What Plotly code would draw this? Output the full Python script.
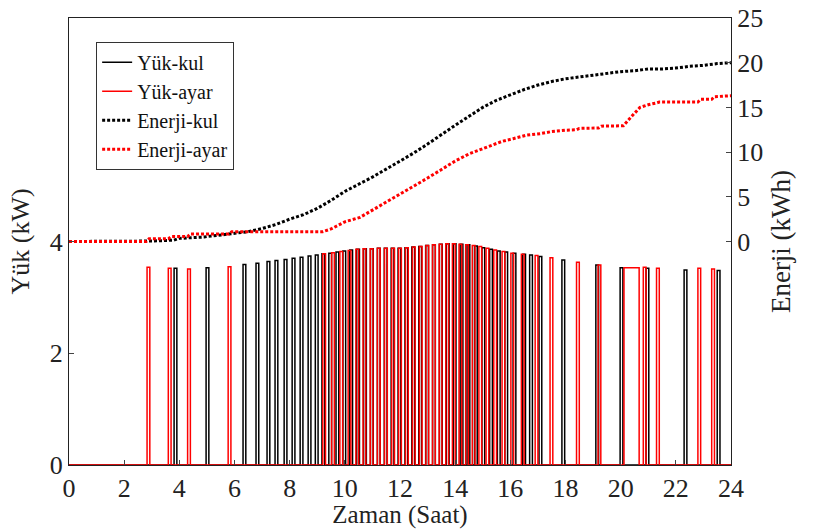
import plotly.graph_objects as go

# ---------------- data ----------------
# Load pulses (start hour, height kW, duration h)
kul_start = [3.81, 4.97, 6.31, 6.78, 7.18, 7.47, 7.80, 8.09, 8.38, 8.67, 8.93, 9.17,
             9.42, 9.68, 9.93, 10.18, 10.43, 10.68, 10.93, 11.18, 11.43, 11.68, 11.93,
             12.18, 12.43, 12.68, 12.93, 13.18, 13.43, 13.68, 13.93, 14.18, 14.43, 14.70,
             14.97, 15.25, 15.53, 15.80, 16.10, 16.45, 16.70, 17.04, 17.87, 19.10, 19.98,
             20.92, 22.30, 23.50]
kul_height = [3.52, 3.53, 3.59, 3.61, 3.64, 3.66, 3.68, 3.70, 3.72, 3.74, 3.76, 3.78,
              3.79, 3.81, 3.83, 3.85, 3.86, 3.87, 3.87, 3.88, 3.88, 3.88, 3.88,
              3.89, 3.90, 3.91, 3.93, 3.94, 3.95, 3.96, 3.96, 3.95, 3.94, 3.92,
              3.89, 3.86, 3.83, 3.81, 3.79, 3.77, 3.76, 3.73, 3.67, 3.58, 3.53,
              3.52, 3.49, 3.48]
kul_dur = [0.10] * len(kul_start)

ayar_start = [2.83, 3.60, 4.30, 5.77, 9.20, 9.52, 9.82, 10.12, 10.40, 10.66, 10.92,
              11.18, 11.44, 11.70, 11.95, 12.20, 12.45, 12.70, 12.94, 13.18, 13.42,
              13.66, 13.90, 14.14, 14.38, 14.62, 14.86, 15.12, 15.40, 15.70, 16.02,
              16.40, 16.90, 17.44, 18.40, 19.18, 20.12, 20.82, 21.30, 22.80, 23.30]
ayar_height = [3.54, 3.52, 3.51, 3.55, 3.78, 3.80, 3.82, 3.84, 3.86, 3.87, 3.87,
               3.88, 3.88, 3.88, 3.88, 3.89, 3.90, 3.91, 3.93, 3.94, 3.95,
               3.96, 3.96, 3.95, 3.94, 3.93, 3.91, 3.88, 3.85, 3.82, 3.79,
               3.77, 3.75, 3.71, 3.63, 3.58, 3.53, 3.54, 3.52, 3.52, 3.51]
ayar_dur = [0.10] * 36 + [0.55] + [0.10] * 4

# Cumulative energy (kWh)
ek_t = [0, 2.5, 3.0, 3.8, 4.0, 4.9, 5.0, 5.7, 6.0, 6.5, 7.0, 7.5, 8.0, 8.5, 9.0, 9.5,
        10.0, 10.5, 11.0, 11.5, 12.0, 12.5, 13.0, 13.5, 14.0, 14.5, 15.0, 15.5, 16.0,
        16.5, 17.0, 17.5, 18.0, 18.5, 19.0, 19.5, 20.0, 20.5, 21.0, 21.5, 22.0, 22.5,
        23.0, 23.5, 24.0]
ek_v = [0, 0, 0.05, 0.15, 0.35, 0.5, 0.55, 0.8, 0.9, 1.1, 1.45, 1.9, 2.5, 3.0, 3.7, 4.6,
        5.6, 6.4, 7.2, 8.1, 9.0, 9.9, 10.9, 12.0, 13.0, 14.0, 15.0, 15.8, 16.4,
        17.0, 17.5, 17.9, 18.2, 18.4, 18.6, 18.8, 19.0, 19.1, 19.3, 19.3, 19.4, 19.6,
        19.7, 19.9, 20.0]

ea_t = [0, 2.8, 2.9, 3.6, 3.7, 4.3, 4.4, 5.8, 5.9, 9.2, 9.5, 10.0, 10.55, 11.0, 11.64,
        12.0, 12.5, 13.0, 13.45, 14.0, 14.5, 15.0, 15.26, 15.7, 16.1, 16.6, 17.1, 17.5,
        18.0, 18.4, 18.5, 19.2, 19.3, 20.1, 20.4, 20.7, 20.9, 21.0, 21.3, 21.4, 22.8,
        22.9, 23.3, 23.4, 24.0]
ea_v = [0, 0, 0.3, 0.3, 0.55, 0.55, 0.85, 0.85, 1.1, 1.1, 1.4, 2.2, 2.7, 3.5, 4.6,
        5.3, 6.2, 7.1, 7.95, 9.0, 9.8, 10.4, 10.76, 11.2, 11.5, 11.9, 12.07, 12.3,
        12.45, 12.5, 12.65, 12.7, 12.9, 12.95, 14.0, 15.0, 15.2, 15.3, 15.5, 15.6, 15.6,
        15.9, 15.9, 16.2, 16.3]

x_ticks = list(range(0, 25, 2))
y_left_ticks = [0, 2, 4]
y_right_ticks = [0, 5, 10, 15, 20, 25]


def pulse_path(starts, heights, durs):
    xs, ys = [0.0], [0.0]
    for t, h, d in zip(starts, heights, durs):
        xs += [t, t, t + d, t + d]
        ys += [0.0, h, h, 0.0]
    xs.append(24.0)
    ys.append(0.0)
    return xs, ys


FONT = "Liberation Serif"

fig = go.Figure()
kx, ky = pulse_path(kul_start, kul_height, kul_dur)
ax, ay = pulse_path(ayar_start, ayar_height, ayar_dur)
fig.add_trace(go.Scatter(x=kx, y=ky, mode="lines", name="Yük-kul",
                         line=dict(color="black", width=1.5)))
fig.add_trace(go.Scatter(x=ax, y=ay, mode="lines", name="Yük-ayar",
                         line=dict(color="red", width=1.5)))
fig.add_trace(go.Scatter(x=ek_t, y=ek_v, mode="lines", name="Enerji-kul", yaxis="y2",
                         line=dict(color="black", width=3, dash="3px,2px")))
fig.add_trace(go.Scatter(x=ea_t, y=ea_v, mode="lines", name="Enerji-ayar", yaxis="y2",
                         line=dict(color="red", width=3, dash="3px,2px")))

fig.update_layout(
    width=813, height=529,
    margin=dict(l=69, r=82, t=18, b=64),
    paper_bgcolor="white", plot_bgcolor="white",
    font=dict(family=FONT, color="#222", size=22),
    showlegend=True,
    legend=dict(x=0.041, y=0.947, xanchor="left", yanchor="top",
                bgcolor="white", bordercolor="#333", borderwidth=1,
                font=dict(family=FONT, size=20, color="#111"),
                tracegroupgap=0, itemwidth=30),
    xaxis=dict(range=[0, 24], tickvals=x_ticks, ticks="inside", ticklen=5,
               showline=True, linecolor="#222", linewidth=1, mirror=True,
               showgrid=False, zeroline=False, automargin=False,
               tickfont=dict(family=FONT, size=26),
               title=dict(text="Zaman (Saat)", font=dict(family=FONT, size=25), standoff=0)),
    yaxis=dict(range=[0, 8], tickvals=y_left_ticks, ticks="inside", ticklen=5,
               showline=True, linecolor="#222", linewidth=1,
               showgrid=False, zeroline=False, automargin=False,
               tickfont=dict(family=FONT, size=26),
               title=dict(text="Yük (kW)", font=dict(family=FONT, size=26), standoff=12)),
    yaxis2=dict(range=[-25, 25], tickvals=y_right_ticks, ticks="inside", ticklen=5,
                overlaying="y", side="right",
                showline=True, linecolor="#222", linewidth=1,
                showgrid=False, zeroline=False, automargin=False,
                tickfont=dict(family=FONT, size=26),
                title=dict(text="Enerji (kWh)", font=dict(family=FONT, size=27), standoff=8)),
)

fig.write_html("out.html")
